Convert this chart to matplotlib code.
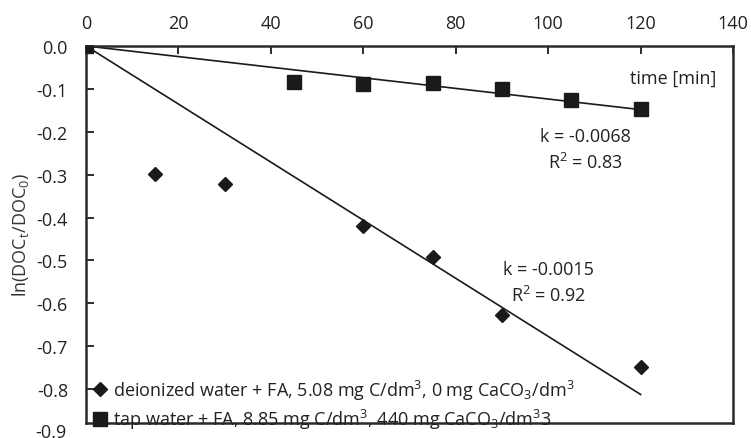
import numpy as np
import matplotlib.pyplot as plt

plt.rcParams['font.family'] = ['Open Sans', 'DejaVu Sans']
plt.rcParams['mathtext.fontset'] = 'custom'
plt.rcParams['mathtext.rm'] = 'Open Sans'
plt.rcParams['mathtext.it'] = 'Open Sans'

# deionized water + FA
t_di = [0, 15, 30, 60, 75, 90, 120]
y_di = [0.0, -0.298, -0.322, -0.42, -0.492, -0.627, -0.748]

# tap water + FA
t_tap = [0, 45, 60, 75, 90, 105, 120]
y_tap = [0.0, -0.084, -0.088, -0.086, -0.1, -0.126, -0.147]

x_ticks = [0, 20, 40, 60, 80, 100, 120, 140]
y_ticks = [0.0, -0.1, -0.2, -0.3, -0.4, -0.5, -0.6, -0.7, -0.8]

label_di = 'deionized water + FA, 5.08 mg C/dm$^{3}$, 0 mg CaCO$_{3}$/dm$^{3}$'
label_tap = 'tap water + FA, 8.85 mg C/dm$^{3}$, 440 mg CaCO$_{3}$/dm$^{3}$3'


def slope_through_origin(x, y):
    x = np.array(x, dtype=float)
    y = np.array(y, dtype=float)
    return np.sum(x * y) / np.sum(x * x)


fig = plt.figure(figsize=(7.51, 4.39), dpi=100)
ax = fig.add_axes([0.1145, 0.0342, 0.8616, 0.8588])

ink = '#1a1a1a'
txt_c = '#222222'
fs = 13

# trend lines (linear fit through origin)
xx = np.array([0, 120])
ax.plot(xx, slope_through_origin(t_di, y_di) * xx, color=ink, lw=1.2, zorder=2)
ax.plot(xx, slope_through_origin(t_tap, y_tap) * xx, color=ink, lw=1.2, zorder=2)

ax.plot(t_di, y_di, 'D', color=ink, ms=7, ls='none', label=label_di, zorder=3)
ax.plot(t_tap, y_tap, 's', color=ink, ms=9.5, ls='none', label=label_tap, zorder=3)

ax.set_xlim(0, 140)
ax.set_ylim(-0.879, 0)
ax.set_xticks(x_ticks)
ax.set_yticks(y_ticks)
ax.set_yticklabels(['%.1f' % v for v in y_ticks])
ax.xaxis.tick_top()
ax.tick_params(axis='both', direction='in', length=6, width=1.3, color=ink,
               labelsize=fs, labelcolor=txt_c)
ax.tick_params(axis='y', pad=13)
ax.tick_params(axis='x', pad=10)
# -0.9 label sits below the cropped axis
ax.text(-4.2, -0.9, '-0.9', ha='right', va='center', fontsize=fs,
        color=txt_c, clip_on=False)

for s in ax.spines.values():
    s.set_linewidth(1.8)
    s.set_color('#2a2a2a')

ax.set_ylabel('ln(DOC$_{t}$/DOC$_{0}$)', fontsize=fs, color='#333333', labelpad=4)

ax.text(136.5, -0.075, 'time [min]', ha='right', va='center', fontsize=fs, color=txt_c)
ax.text(108, -0.21, 'k = -0.0068', ha='center', va='center', fontsize=fs, color=txt_c)
ax.text(108, -0.27, 'R$^{2}$ = 0.83', ha='center', va='center', fontsize=fs, color=txt_c)
ax.text(100, -0.52, 'k = -0.0015', ha='center', va='center', fontsize=fs, color=txt_c)
ax.text(100, -0.58, 'R$^{2}$ = 0.92', ha='center', va='center', fontsize=fs, color=txt_c)

leg = ax.legend(loc='lower left', frameon=False, fontsize=fs, handlelength=0.7,
                handletextpad=0.35, labelspacing=0.3, borderaxespad=0.0,
                borderpad=0.3, bbox_to_anchor=(0.004, -0.036))
for txt in leg.get_texts():
    txt.set_color(txt_c)

fig.savefig('out.png', dpi=100)
